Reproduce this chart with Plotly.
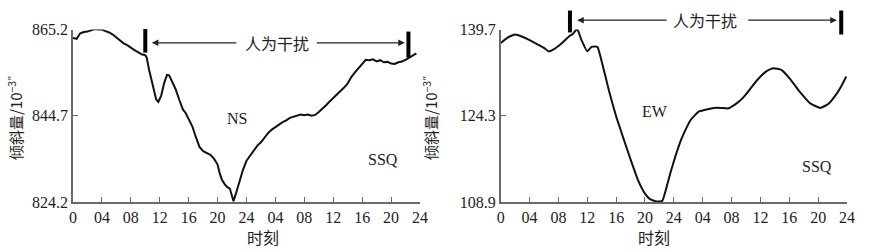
import plotly.graph_objects as go

# ---------------- data ----------------
ns_hours = [0, 0.5, 1, 1.5, 2, 2.5, 3, 3.5, 4, 4.5, 5, 5.5, 6, 6.5, 7, 7.5, 8, 8.5, 9, 9.5,
            10, 10.2, 10.5, 11, 11.5, 11.8, 12.2, 12.6, 13, 13.3, 13.7, 14.2, 14.7, 15.2, 15.6,
            16, 16.5, 17, 17.5, 18, 18.5, 19, 19.5, 20, 20.3, 20.6, 21, 21.3, 21.7, 22, 22.2,
            22.5, 23, 23.5, 24, 24.5, 25, 25.5, 26, 26.5, 27, 27.5, 28, 28.5, 29, 29.5, 30,
            30.5, 31, 31.5, 32, 32.5, 33, 33.5, 34, 34.5, 35, 35.5, 36, 36.5, 37, 37.5, 38,
            38.5, 39, 39.5, 40, 40.5, 41, 41.5, 42, 42.5, 43, 43.5, 44, 44.5, 45, 45.5, 46,
            46.5, 47, 47.5]
ns_values = [863.2, 863.0, 864.3, 864.6, 864.7, 865.1, 865.3, 865.2, 865.2, 864.8, 864.5, 864.0,
             863.3, 862.4, 861.9, 861.5, 860.8, 860.3, 859.8, 859.3, 859.1, 858.5, 855.8, 851.8,
             848.6, 848.0, 849.5, 852.4, 854.4, 854.3, 852.9, 851.0, 848.5, 846.2, 845.3, 844.0,
             842.2, 839.6, 837.3, 836.3, 835.9, 835.4, 834.5, 833.1, 831.0, 829.5, 828.4, 827.8,
             827.4, 825.5, 824.4, 826.0, 829.0, 831.8, 834.0, 835.2, 836.5, 837.6, 838.4, 839.5,
             840.6, 841.4, 842.1, 842.6, 843.2, 843.6, 844.2, 844.5, 844.7, 845.0, 844.8, 845.0,
             844.7, 844.9, 845.6, 846.3, 847.2, 848.1, 848.9, 849.7, 850.6, 851.4, 852.4, 853.9,
             855.0, 856.0, 857.2, 858.0, 857.9, 858.1, 857.6, 857.9, 857.4, 857.5, 857.1, 857.0,
             857.4, 857.6, 858.0, 858.5, 858.9, 859.5]

ew_hours = [0, 0.5, 1, 2, 3, 4, 5, 6, 6.7, 7.5, 8.5, 9.5, 10, 10.6, 11.2, 12, 12.6, 13.4, 14,
            15, 16, 17, 18, 19, 20, 20.7, 21.6, 22.4, 23, 23.5, 24.2, 25, 25.7, 26.3, 27.4,
            28.5, 29.5, 30.5, 31.5, 32.7, 33.5, 34.1, 35.5, 36.9, 37.8, 38.9, 40.1, 41.5, 42.9,
            44.3, 45.4, 46.6, 47.3, 47.9]
ew_values = [137.3, 137.8, 138.3, 138.8, 138.4, 137.8, 137.1, 136.4, 135.8, 136.3, 137.3, 138.5,
             138.9, 139.8, 137.8, 135.8, 136.6, 136.6, 134.0, 128.8, 124.2, 120.3, 116.5, 112.9,
             110.4, 109.4, 109.0, 109.1, 111.6, 114.0, 117.0, 120.0, 122.0, 123.5, 125.0, 125.4,
             125.7, 125.7, 125.6, 126.5, 127.4, 128.3, 130.6, 132.3, 132.8, 132.5, 130.9, 128.5,
             126.5, 125.7, 126.4, 128.3, 129.8, 131.3]

x_tickvals = [0, 4, 8, 12, 16, 20, 24, 28, 32, 36, 40, 44, 48]
x_ticktext = ["0", "04", "08", "12", "16", "20", "24", "04", "08", "12", "16", "20", "24"]
ns_ticks = [824.2, 844.7, 865.2]
ew_ticks = [108.9, 124.3, 139.7]

# interference markers (hours)
ns_marks = [10.0, 46.4]
ew_marks = [9.6, 47.2]

# ---------------- figure ----------------
fig = go.Figure()
fig.add_trace(go.Scatter(x=ns_hours, y=ns_values, mode="lines",
                         line=dict(color="#111111", width=2), xaxis="x", yaxis="y",
                         showlegend=False, hoverinfo="skip"))
fig.add_trace(go.Scatter(x=ew_hours, y=ew_values, mode="lines",
                         line=dict(color="#111111", width=2, shape="spline", smoothing=0.4),
                         xaxis="x2", yaxis="y2", showlegend=False, hoverinfo="skip"))

serif = "Liberation Serif"
cjk = "Noto Sans CJK SC"
axis_color = "#6a6a6a"

def xaxis(domain, anchor):
    return dict(domain=domain, anchor=anchor, range=[0, 48], tickmode="array",
                tickvals=x_tickvals, ticktext=x_ticktext, ticks="inside", ticklen=5,
                tickwidth=1.3, tickcolor=axis_color, showline=True, linecolor=axis_color,
                linewidth=1.6, showgrid=False, zeroline=False, automargin=False,
                tickfont=dict(family=serif, size=16, color="#222222"))

def yaxis(domain, anchor, rng, ticks):
    return dict(domain=domain, anchor=anchor, range=rng, tickmode="array", tickvals=ticks,
                ticktext=[f"{t:.1f}" for t in ticks], ticks="inside", ticklen=5,
                tickwidth=1.3, tickcolor=axis_color, showline=True, linecolor=axis_color,
                linewidth=1.6, showgrid=False, zeroline=False, ticklabelstandoff=0,
                automargin=False,
                tickfont=dict(family=serif, size=16, color="#222222"))

ydom = [1 - 202 / 252, 1 - 29.5 / 252]
fig.update_layout(
    width=870, height=252, margin=dict(l=0, r=0, t=0, b=0, autoexpand=False),
    paper_bgcolor="white", plot_bgcolor="white",
    xaxis=xaxis([73 / 870, 420 / 870], "y"),
    yaxis=yaxis(ydom, "x", [824.2, 865.2], ns_ticks),
    xaxis2=xaxis([500.7 / 870, 847 / 870], "y2"),
    yaxis2=yaxis(ydom, "x2", [108.9, 139.7], ew_ticks),
)

shapes = []
annotations = []

def add_disturbance(xr, yr, marks, bar_y, arrow_y, left_line, right_line, text_x):
    # vertical bars
    for m, (y0, y1) in zip(marks, bar_y):
        shapes.append(dict(type="line", xref=f"{xr} domain", yref=f"{yr} domain",
                           x0=m / 48, x1=m / 48, y0=y0, y1=y1,
                           line=dict(color="#000000", width=4)))
    # arrows (head, tail)
    for head, tail in [left_line, right_line]:
        annotations.append(dict(xref=f"{xr} domain", yref=f"{yr} domain",
                                axref=f"{xr} domain", ayref=f"{yr} domain",
                                x=head / 48, y=arrow_y, ax=tail / 48, ay=arrow_y,
                                text="", showarrow=True, arrowhead=2, arrowsize=1.1,
                                arrowwidth=1.2, arrowcolor="#222222"))
    annotations.append(dict(xref=f"{xr} domain", yref=f"{yr} domain", x=text_x / 48,
                            y=arrow_y, yshift=14, text="人为干扰", showarrow=False,
                            font=dict(family=cjk, size=16, color="#222222")))

add_disturbance("x", "y", ns_marks, [(1.003, 0.866), (0.988, 0.837)], 0.923,
                (10.9, 22.8), (45.9, 33.5), 28.2)
add_disturbance("x2", "y2", ew_marks, [(1.110, 0.983), (1.110, 0.971)], 1.054,
                (10.6, 23.2), (46.6, 34.1), 28.3)

# labels inside panels
def label(xr, yr, hx, yv, txt):
    annotations.append(dict(xref=xr, yref=yr, x=hx, y=yv, text=txt, showarrow=False,
                            font=dict(family=serif, size=16, color="#222222")))

label("x", "y", 22.7, 844.1, "NS")
label("x", "y", 42.9, 834.4, "SSQ")
label("x2", "y2", 21.4, 125.0, "EW")
label("x2", "y2", 43.9, 115.3, "SSQ")

# axis titles
for xc in [245 / 870, 672 / 870]:
    annotations.append(dict(xref="paper", yref="paper", x=xc, y=1 - 237 / 252,
                            yanchor="middle", height=18, valign="middle", text="时刻",
                            showarrow=False,
                            font=dict(family=cjk, size=16, color="#222222")))
for xc in [15 / 870, 443 / 870]:
    annotations.append(dict(xref="paper", yref="paper", x=xc, y=1 - 118 / 252,
                            xshift=-13, text="倾斜量/10<sup>−3″</sup>", textangle=-90,
                            showarrow=False,
                            font=dict(family=cjk, size=15, color="#222222")))

fig.update_layout(shapes=shapes, annotations=annotations)
fig.write_html("out.html", config={"displayModeBar": False},
               post_script="document.body.style.margin='0';document.body.style.padding='0';")
